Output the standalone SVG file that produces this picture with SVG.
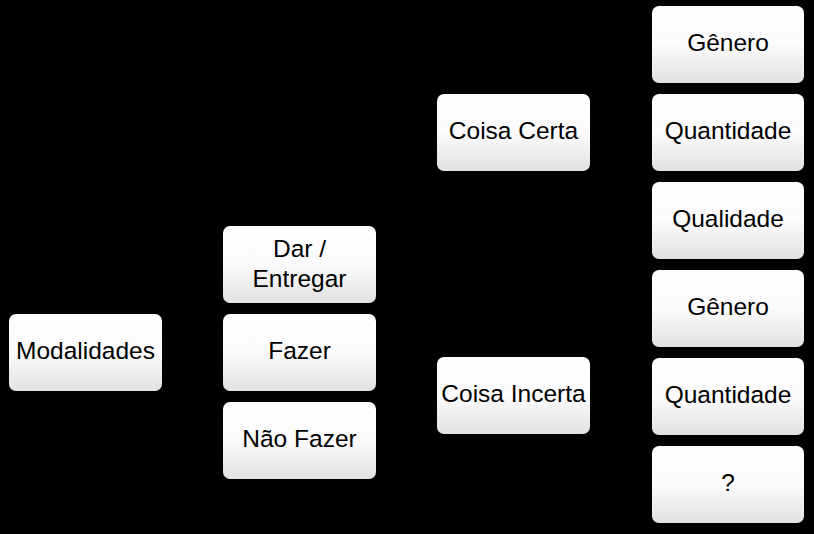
<svg xmlns="http://www.w3.org/2000/svg" width="814" height="534" viewBox="0 0 814 534">
<defs>
<linearGradient id="g" x1="0" y1="0" x2="0" y2="1">
<stop offset="0" stop-color="#ffffff"/>
<stop offset="0.5" stop-color="#fbfbfb"/>
<stop offset="1" stop-color="#e2e2e2"/>
</linearGradient>
</defs>
<style>
.box{fill:url(#g);stroke:none}
.t{font-family:"Liberation Sans",Arial,sans-serif;font-size:24.5px;fill:#000;text-anchor:middle}
</style>
<rect width="814" height="534" fill="#000"/>
<g id="connectors"></g>
<g id="modalidades"><rect class="box" x="9" y="314" width="153" height="77" rx="7"/><text class="t" x="85.5" y="359">Modalidades</text></g>
<g id="dar"><rect class="box" x="223" y="226" width="153" height="77" rx="7"/><text class="t" x="299.5" y="257">Dar /</text><text class="t" x="299.5" y="287">Entregar</text></g>
<g id="fazer"><rect class="box" x="223" y="314" width="153" height="77" rx="7"/><text class="t" x="299.5" y="359">Fazer</text></g>
<g id="naofazer"><rect class="box" x="223" y="402" width="153" height="77" rx="7"/><text class="t" x="299.5" y="447">Não Fazer</text></g>
<g id="certa"><rect class="box" x="437" y="94" width="153" height="77" rx="7"/><text class="t" x="513.5" y="139">Coisa Certa</text></g>
<g id="incerta"><rect class="box" x="437" y="357" width="153" height="77" rx="7"/><text class="t" x="513.5" y="402">Coisa Incerta</text></g>
<g id="genero1"><rect class="box" x="652" y="6" width="152" height="77" rx="7"/><text class="t" x="728" y="51">Gênero</text></g>
<g id="quantidade1"><rect class="box" x="652" y="94" width="152" height="77" rx="7"/><text class="t" x="728" y="139">Quantidade</text></g>
<g id="qualidade"><rect class="box" x="652" y="182" width="152" height="77" rx="7"/><text class="t" x="728" y="227">Qualidade</text></g>
<g id="genero2"><rect class="box" x="652" y="270" width="152" height="77" rx="7"/><text class="t" x="728" y="315">Gênero</text></g>
<g id="quantidade2"><rect class="box" x="652" y="358" width="152" height="77" rx="7"/><text class="t" x="728" y="403">Quantidade</text></g>
<g id="interrogacao"><rect class="box" x="652" y="446" width="152" height="77" rx="7"/><text class="t" x="728" y="491">?</text></g>
</svg>
